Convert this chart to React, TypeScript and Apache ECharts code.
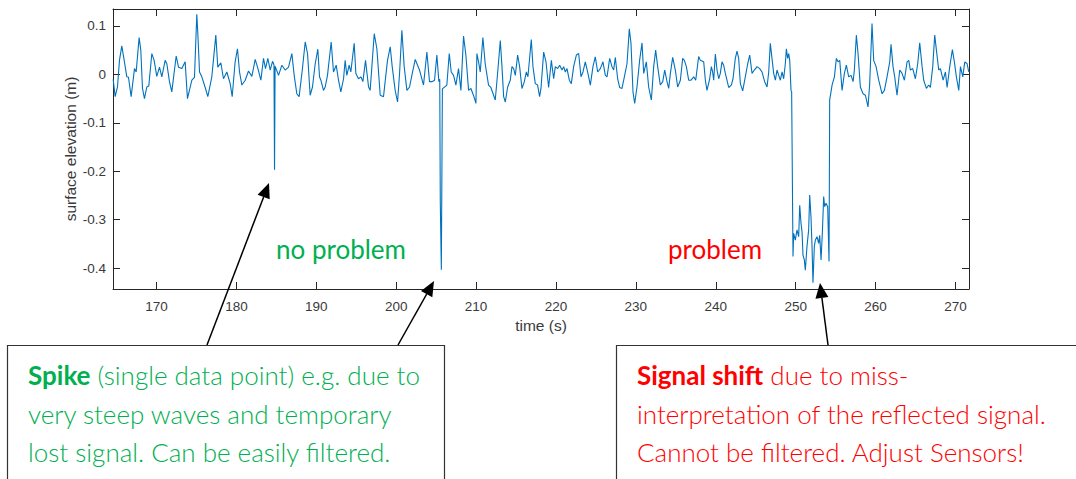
import React, { useEffect, useRef } from "react";
import * as echarts from "echarts";

// time (s) / surface elevation (m), split by region
const segment1: number[][] = [
  [164.57,-0.010],[164.82,-0.046],[165.11,-0.026],[165.36,0.029],[165.65,0.059],[165.95,0.029],[166.28,-0.005],[166.49,-0.006],[166.82,-0.046],[167.24,0.012],[167.45,0.005],[167.82,0.076],[168.03,0.050],[168.24,-0.029],[168.49,-0.050],[168.78,-0.026],[169.03,-0.024],[169.41,0.043],[169.70,0.029],[170.03,-0.004],[170.37,0.015],[170.66,-0.005],[171.08,0.029],[171.29,0.022],[171.62,-0.015],[171.91,-0.036],[172.46,0.038],[172.75,0.015],[173.17,0.012],[173.58,0.026],[173.87,-0.050],[174.42,-0.012],[174.75,-0.006],[175.04,0.124],[175.17,0.084],[175.38,0.005],[175.67,-0.005],[176.09,-0.027],[176.42,-0.046],[176.92,-0.005],[177.42,0.081],[177.67,0.015],[178.05,0.024],[178.38,-0.009],[178.80,0.005],[179.22,-0.019],[179.47,-0.046],[179.84,0.026],[180.13,0.053],[180.39,0.005],[180.68,-0.022],[181.10,-0.012],[181.51,0.007],[181.93,-0.004],[182.35,0.031],[182.64,0.015],[183.06,-0.012],[183.39,0.033],[183.64,0.012],[183.93,0.033],[184.23,0.009],[184.52,0.027],[184.70,0.020],[184.77,-0.197],[184.84,0.017],[185.27,-0.002],[185.69,0.019],[186.11,0.009],[186.52,0.015],[186.94,0.043],[187.23,-0.002],[187.56,-0.040],[187.85,-0.046],[188.25,0.010]
];
const segment2: number[][] = [
  [188.61,0.067],[188.90,0.043],[189.23,-0.043],[189.52,-0.026],[189.86,0.022],[190.19,0.052],[190.40,-0.005],[190.57,-0.012],[190.90,-0.033],[191.11,-0.026],[191.40,-0.002],[191.86,0.067],[192.15,0.005],[192.49,0.019],[192.78,-0.012],[193.07,-0.036],[193.41,-0.009],[193.61,0.029],[193.82,-0.002],[194.11,0.019],[194.32,0.005],[194.74,0.064],[194.95,0.002],[195.28,-0.009],[195.58,-0.005],[195.83,-0.015],[196.16,0.029],[196.54,-0.026],[196.74,-0.033],[197.25,0.084],[197.58,0.053],[198.00,-0.043],[198.41,-0.046],[198.91,0.029],[199.25,0.057],[199.50,0.016],[199.87,-0.033],[200.17,-0.057],[200.42,0.002],[200.71,0.091],[201.00,0.016],[201.34,-0.033],[201.67,-0.026],[202.05,0.005],[202.38,0.031],[202.67,0.019],[202.92,0.009],[203.42,-0.022],[203.84,0.046],[204.17,-0.015],[204.47,-0.015],[204.80,-0.012],[205.09,0.040],[205.34,-0.015],[205.45,-0.010],[205.52,-0.265],[205.65,-0.403],[205.78,-0.030],[206.34,-0.022],[206.64,0.043],[206.89,0.005],[207.18,-0.002],[207.47,-0.022],[207.80,0.012],[208.10,-0.033],[208.43,0.079],[208.72,0.040],[209.06,-0.033],[209.35,-0.029],[209.60,-0.040],[209.81,-0.050],[209.98,-0.060],[210.10,0.043],[210.31,0.026],[210.52,0.005],[210.85,0.076],[211.14,0.022],[211.56,-0.022],[211.85,-0.027],[212.19,-0.043],[212.40,-0.053],[212.69,0.002]
];
const segment3: number[][] = [
  [213.03,0.070],[213.24,0.016],[213.45,-0.046],[213.66,-0.057],[213.95,-0.026],[214.28,-0.012],[214.49,0.016],[214.70,0.012],[214.91,-0.002],[215.20,0.040],[215.45,0.016],[215.74,-0.029],[216.04,-0.015],[216.29,0.005],[216.49,-0.005],[216.91,0.072],[217.12,0.016],[217.41,-0.019],[217.70,-0.022],[217.95,-0.046],[218.12,-0.029],[218.46,0.046],[218.75,0.026],[219.08,-0.027],[219.42,0.029],[219.71,-0.009],[219.92,0.016],[220.21,0.012],[220.46,0.019],[220.75,0.009],[220.96,0.016],[221.17,0.005],[221.38,0.012],[221.67,-0.012],[221.92,-0.019],[222.21,0.016],[222.55,0.040],[222.84,0.043],[223.13,-0.005],[223.38,0.005],[223.67,0.026],[223.96,0.005],[224.30,-0.022],[224.63,0.016],[224.92,0.036],[225.22,0.005],[225.55,0.012],[225.88,0.026],[226.18,-0.002],[226.39,-0.005],[226.72,0.033],[227.01,0.016],[227.22,0.009],[227.43,0.035],[227.72,-0.009],[227.97,-0.027],[228.26,-0.029],[228.56,-0.005],[228.89,0.022],[229.18,0.094],[229.39,0.064],[229.64,-0.036],[229.85,-0.060],[230.14,-0.026],[230.47,0.029],[230.77,0.065],[230.98,0.002],[231.31,0.026],[231.60,-0.026],[231.94,-0.053],[232.23,0.016],[232.48,0.050],[232.73,0.016],[233.06,-0.022],[233.36,-0.015],[233.61,0.009],[233.90,-0.015],[234.11,-0.029],[234.32,0.002],[234.61,0.035],[234.94,0.009],[235.23,-0.026],[235.57,-0.012],[235.86,0.033],[236.07,0.029],[236.32,0.016],[236.61,-0.012],[236.90,-0.012],[237.24,-0.005],[237.49,-0.012],[237.86,0.037]
];
const segment4: number[][] = [
  [238.07,0.029],[238.49,0.026],[238.70,-0.012],[238.90,-0.033],[239.24,-0.009],[239.45,0.016],[239.61,0.005],[239.74,-0.012],[239.95,0.042],[240.16,0.009],[240.37,-0.009],[240.57,0.002],[240.78,0.026],[240.99,0.019],[241.20,0.002],[241.62,-0.027],[241.95,-0.022],[242.16,-0.009],[242.45,0.033],[242.66,0.048],[242.87,0.033],[243.08,-0.019],[243.37,-0.034],[243.70,-0.005],[244.00,0.022],[244.25,0.040],[244.54,0.002],[244.83,0.009],[245.17,0.016],[245.50,0.012],[245.79,0.005],[246.12,-0.015],[246.42,-0.026],[246.63,0.005],[246.83,0.064],[247.04,0.033],[247.25,0.002],[247.46,-0.012],[247.67,0.009],[247.88,-0.002],[248.09,-0.012],[248.30,0.005],[248.50,-0.009],[248.71,0.022],[248.84,0.053],[249.00,0.033],[249.13,0.043],[249.26,0.029],[249.42,-0.033]
];
const shiftSegment: number[][] = [
  [249.50,-0.036],[249.67,-0.376],[249.75,-0.328],[249.96,-0.342],[250.17,-0.321],[250.38,-0.335],[250.51,-0.270],[250.67,-0.307],[250.80,-0.325],[250.92,-0.373],[251.09,-0.383],[251.21,-0.404],[251.42,-0.355],[251.63,-0.321],[251.76,-0.249],[251.92,-0.294],[252.05,-0.355],[252.17,-0.430],[252.34,-0.355],[252.47,-0.342],[252.68,-0.335],[252.88,-0.349],[253.01,-0.332],[253.18,-0.383],[253.34,-0.328],[253.51,-0.252],[253.63,-0.273],[253.80,-0.266],[254.01,-0.273],[254.18,-0.386],[254.26,-0.053]
];
const segment5: number[][] = [
  [254.56,-0.022],[254.85,-0.005],[255.10,0.033],[255.31,0.026],[255.52,0.029],[255.81,-0.033],[256.10,0.002],[256.35,0.019],[256.64,-0.005],[256.94,-0.002],[257.19,-0.015],[257.35,0.009],[257.60,0.081],[257.81,0.043],[258.10,-0.026],[258.44,-0.040],[258.73,-0.043],[259.06,-0.067],[259.27,-0.019],[259.56,0.105],[259.77,0.029],[260.07,0.016],[260.40,-0.012],[260.82,-0.040],[261.11,-0.033],[261.44,-0.005],[261.78,0.026],[261.94,0.062],[262.19,0.016],[262.40,-0.005],[262.69,-0.043],[263.03,0.009],[263.32,0.002],[263.61,-0.012],[263.95,0.026],[264.16,0.029],[264.36,0.009],[264.66,0.012],[264.99,-0.009],[265.28,0.022],[265.53,0.065],[265.83,0.016],[266.03,-0.012],[266.37,-0.029],[266.66,-0.022],[266.87,-0.027],[267.16,0.016],[267.41,0.081],[267.62,0.050],[267.91,0.009],[268.12,0.012],[268.46,-0.012],[268.75,0.005],[268.96,-0.027],[269.29,0.016],[269.62,0.051],[269.87,0.026],[270.12,-0.005],[270.42,-0.033],[270.63,0.016],[270.92,-0.005],[271.17,0.026],[271.46,0.022],[271.67,0.005]
];

const xRange = [164.55, 271.7];
const yRange = [-0.443, 0.135];

const GREEN = "#00B050";
const RED = "#FF0000";
const AXIS = "#262626";
const ANN_FONT = "Lato";
const ANN_SIZE = 26;

function arrow(x1: number, y1: number, x2: number, y2: number) {
  const dx = x2 - x1, dy = y2 - y1;
  const len = Math.sqrt(dx * dx + dy * dy);
  const ux = dx / len, uy = dy / len;
  const hl = 15, hw = 6.5;
  const bx = x2 - ux * hl, by = y2 - uy * hl;
  const px = -uy, py = ux;
  return [
    { type: "line", shape: { x1, y1, x2: bx, y2: by }, style: { stroke: "#000", lineWidth: 1.5 }, z: 10 },
    {
      type: "polygon",
      shape: { points: [[x2, y2], [bx + px * hw, by + py * hw], [bx - px * hw, by - py * hw]] },
      style: { fill: "#000" },
      z: 10,
    },
  ];
}

function annText(x: number, y: number, text: string, color: string, weight: number, rich?: boolean) {
  const base: any = {
    type: "text",
    x,
    y,
    z: 10,
    style: {
      text,
      fill: color,
      fontSize: ANN_SIZE,
      fontFamily: ANN_FONT,
      fontWeight: weight,
      verticalAlign: "middle",
      align: "left",
    },
  };
  if (rich) {
    base.style.rich = {
      b: { fontWeight: "bold", fill: color, fontSize: ANN_SIZE, fontFamily: ANN_FONT },
    };
  }
  return base;
}

export default function App() {
  const ref = useRef<HTMLDivElement>(null);
  useEffect(() => {
    if (!ref.current) return;
    const chart = echarts.init(ref.current, null, { renderer: "svg" });
    const data = [...segment1, ...segment2, ...segment3, ...segment4, ...shiftSegment, ...segment5];

    const xFmt = (v: number) => (Math.abs(v / 10 - Math.round(v / 10)) < 1e-6 ? String(Math.round(v)) : "");
    const yFmt = (v: number) =>
      Math.abs(v * 10 - Math.round(v * 10)) < 1e-6 ? String(Math.round(v * 10) / 10) : "";

    const tickFont = { color: "#3a3a3a", fontSize: 13.5, fontFamily: "Liberation Sans, Arial, sans-serif" };

    const option: any = {
      animation: false,
      backgroundColor: "#fff",
      grid: { left: 113, right: 107, top: 9, bottom: 190, containLabel: false },
      xAxis: [
        {
          type: "value",
          min: xRange[0],
          max: xRange[1],
          splitNumber: 10,
          position: "bottom",
          axisLine: { show: true, onZero: false, lineStyle: { color: AXIS, width: 1 } },
          axisTick: { show: true, inside: true, length: 7, lineStyle: { color: AXIS } },
          axisLabel: { ...tickFont, margin: 10, formatter: xFmt, showMinLabel: false, showMaxLabel: false },
          splitLine: { show: false },
        },
        {
          type: "value",
          min: xRange[0],
          max: xRange[1],
          splitNumber: 10,
          position: "top",
          axisLine: { show: true, onZero: false, lineStyle: { color: AXIS, width: 1 } },
          axisTick: { show: true, inside: true, length: 7, lineStyle: { color: AXIS } },
          axisLabel: { show: false },
          splitLine: { show: false },
        },
      ],
      yAxis: [
        {
          type: "value",
          min: yRange[0],
          max: yRange[1],
          splitNumber: 5,
          position: "left",
          axisLine: { show: true, onZero: false, lineStyle: { color: AXIS, width: 1 } },
          axisTick: { show: true, inside: true, length: 7, lineStyle: { color: AXIS } },
          axisLabel: { ...tickFont, margin: 7, formatter: yFmt, showMinLabel: false, showMaxLabel: false },
          splitLine: { show: false },
        },
        {
          type: "value",
          min: yRange[0],
          max: yRange[1],
          splitNumber: 5,
          position: "right",
          axisLine: { show: true, onZero: false, lineStyle: { color: AXIS, width: 1 } },
          axisTick: { show: true, inside: true, length: 7, lineStyle: { color: AXIS } },
          axisLabel: { show: false },
          splitLine: { show: false },
        },
      ],
      series: [
        {
          type: "line",
          xAxisIndex: 0,
          yAxisIndex: 0,
          data,
          symbol: "none",
          showSymbol: false,
          lineStyle: { color: "#0072BD", width: 1.1 },
          clip: true,
        },
      ],
      graphic: [
        {
          type: "text",
          x: 541,
          y: 325,
          style: {
            text: "time (s)",
            fill: "#3a3a3a",
            fontSize: 15.5,
            fontFamily: "Liberation Sans, Arial, sans-serif",
            align: "center",
            verticalAlign: "middle",
          },
        },
        {
          type: "text",
          x: 70,
          y: 149,
          rotation: Math.PI / 2,
          style: {
            text: "surface elevation (m)",
            fill: "#3a3a3a",
            fontSize: 15.5,
            fontFamily: "Liberation Sans, Arial, sans-serif",
            align: "center",
            verticalAlign: "middle",
          },
        },
        annText(276, 249, "no problem", GREEN, 400),
        annText(668, 249, "problem", RED, 400),
        {
          type: "rect",
          shape: { x: 7.5, y: 345.5, width: 437, height: 200 },
          style: { fill: "#fff", stroke: "#333", lineWidth: 1.2 },
          z: 5,
        },
        {
          type: "rect",
          shape: { x: 616.5, y: 345.5, width: 500, height: 200 },
          style: { fill: "#fff", stroke: "#333", lineWidth: 1.2 },
          z: 5,
        },
        annText(28, 375, "{b|Spike} (single data point) e.g. due to", GREEN, 300, true),
        annText(28, 414, "very steep waves and temporary", GREEN, 300),
        annText(28, 452, "lost signal. Can be easily filtered.", GREEN, 300),
        annText(637, 375, "{b|Signal shift} due to miss-", RED, 300, true),
        annText(637, 414, "interpretation of the reflected signal.", RED, 300),
        annText(637, 452, "Cannot be filtered. Adjust Sensors!", RED, 300),
        ...arrow(207, 345, 269, 183),
        ...arrow(398, 345, 434, 281),
        ...arrow(828, 345, 820, 283),
      ],
    };
    chart.setOption(option);
    return () => chart.dispose();
  }, []);
  return (
    <div
      ref={ref}
      style={{ position: "fixed", left: 0, top: 0, width: 1076, height: 479, background: "#fff" }}
    />
  );
}
